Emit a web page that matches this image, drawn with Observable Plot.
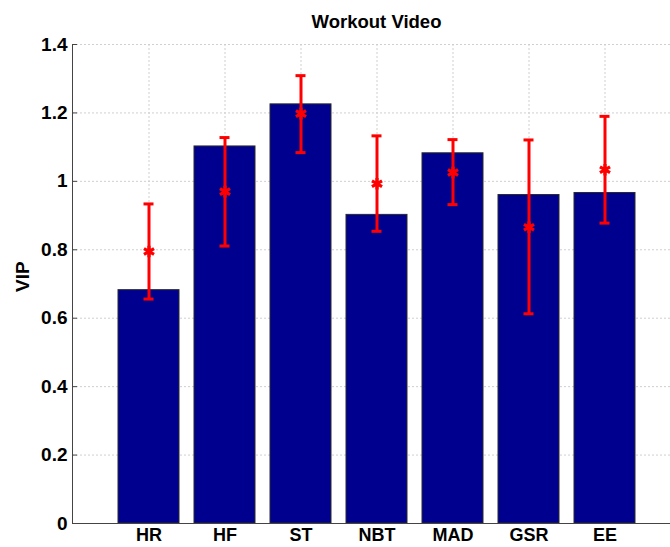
<!DOCTYPE html>
<html>
<head>
<meta charset="utf-8">
<script src="https://cdn.jsdelivr.net/npm/d3@7"></script>
<script src="https://cdn.jsdelivr.net/npm/@observablehq/plot@0.6"></script>
<style>
  html, body { margin: 0; padding: 0; background: white; }
  svg { overflow: visible; }
</style>
</head>
<body>
<div id="chart"></div>
<script>
const title = "Workout Video";
const yLabel = "VIP";
const categories = ["HR", "HF", "ST", "NBT", "MAD", "GSR", "EE"];
const vipBars = [0.682, 1.102, 1.225, 0.902, 1.082, 0.960, 0.966];
const vipMean = [0.795, 0.970, 1.198, 0.993, 1.026, 0.866, 1.034];
const vipLower = [0.656, 0.811, 1.084, 0.854, 0.932, 0.613, 0.878];
const vipUpper = [0.934, 1.128, 1.309, 1.133, 1.122, 1.121, 1.190];
const yTicks = [0, 0.2, 0.4, 0.6, 0.8, 1.0, 1.2, 1.4];
const yTickLabels = ["0", "0.2", "0.4", "0.6", "0.8", "1", "1.2", "1.4"];

const data = categories.map((c, i) => ({
  cat: c, vip: vipBars[i], mean: vipMean[i], lo: vipLower[i], hi: vipUpper[i]
}));

const W = 670, H = 547;
const padL = 72, padT = 44, axisBottom = 523;
const gridStyle = {stroke: "#cfcfcf", strokeWidth: 1, strokeDasharray: "2,2"};
const axisColor = "#444";
const red = "#ff0000";

const chart = Plot.plot({
  width: W,
  height: H,
  marginLeft: padL,
  marginRight: 0,
  marginTop: padT,
  marginBottom: H - axisBottom,
  style: {
    fontFamily: "'Liberation Sans', Arial, Helvetica, sans-serif",
    fontSize: "18px",
    fontWeight: "bold",
    color: "black",
    background: "white",
    overflow: "visible"
  },
  x: {domain: categories, range: [padL, 680], paddingInner: 0.2, paddingOuter: 0.6},
  y: {domain: [0, 1.4], range: [axisBottom, padT]},
  marks: [
    Plot.ruleY(yTicks, {y: d => d, ...gridStyle}),
    Plot.ruleX(categories, {x: d => d, ...gridStyle}),
    Plot.barY(data, {x: "cat", y: "vip", fill: "#00008f", stroke: "#2a2a2a", strokeWidth: 1}),
    Plot.ruleX(data, {x: "cat", y1: "lo", y2: "hi", stroke: red, strokeWidth: 3}),
    Plot.tickY(data, {x: "cat", y: "hi", stroke: red, strokeWidth: 3, insetLeft: 25.5, insetRight: 25.5}),
    Plot.tickY(data, {x: "cat", y: "lo", stroke: red, strokeWidth: 3, insetLeft: 25.5, insetRight: 25.5}),
    Plot.dot(data, {x: "cat", y: "mean", symbol: "asterisk", r: 5.5, stroke: red, strokeWidth: 3.2}),
    Plot.ruleY(yTicks, {y: d => d, stroke: axisColor, strokeWidth: 1, insetRight: W - padL - 5}),
    Plot.frame({anchor: "left", stroke: axisColor, strokeWidth: 1}),
    Plot.ruleY([0], {stroke: axisColor, strokeWidth: 1}),
    Plot.axisY(yTicks, {tickSize: 0, tickPadding: 5, label: null,
      tickFormat: d => yTickLabels[yTicks.indexOf(d)], fontSize: 19, fontWeight: "bold", fill: "black"}),
    Plot.axisX({tickSize: 0, tickPadding: 5, label: null, fontSize: 18, fontWeight: "bold", fill: "black"}),
    Plot.text([title], {frameAnchor: "top", dx: 5, dy: -17, lineAnchor: "bottom",
      fontSize: 18.5, fontWeight: "bold", fill: "black"}),
    Plot.text([yLabel], {frameAnchor: "left", rotate: -90, dx: -49.5, dy: 8,
      fontSize: 19, fontWeight: "bold", fill: "black"})
  ]
});
document.getElementById("chart").appendChild(chart);
</script>
</body>
</html>
